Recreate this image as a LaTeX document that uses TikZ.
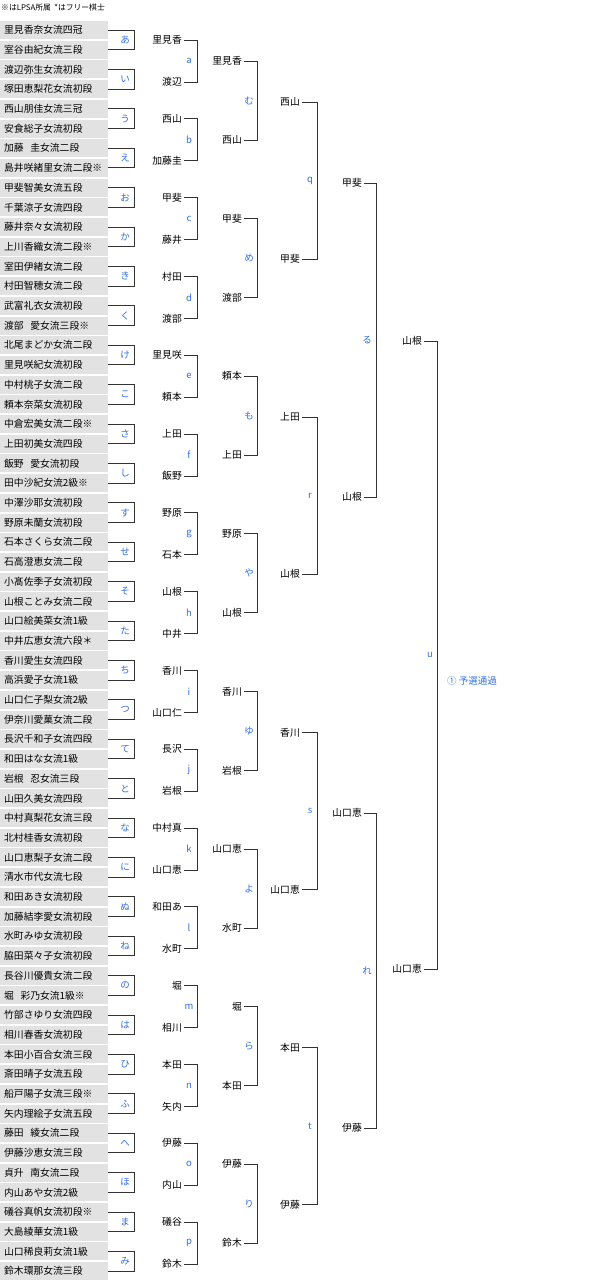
\documentclass[tikz,border=0pt]{standalone}
\usepackage{fontspec}
\newfontfamily\jp{Noto Sans CJK JP}
\definecolor{lblue}{HTML}{2F6FE8}
\definecolor{boxgray}{HTML}{E2E2E2}
\definecolor{lncol}{HTML}{333333}
\newcommand\brk[9]{%
 \node[nm,anchor=east] (t#1) at (#2,#4) {#6};
 \node[nm,anchor=east] (b#1) at (#2,#5) {#7};
 \coordinate (v#1) at (#3,#4);
 \draw[ln] ([xshift=2pt]t#1.east) -- (v#1) |- ([xshift=2pt]b#1.east);
 \node[lb] (l#1) at (#9,{(#4+#5)/2}) {#8};}
\begin{document}
\begin{tikzpicture}[x=1pt,y=-1pt,
 nm/.style={font=\jp\fontsize{9.8}{10}\selectfont,inner sep=0pt},
 pl/.style={font=\jp\fontsize{9.8}{10}\selectfont,fill=boxgray,anchor=west,text width=100pt,inner xsep=4pt,inner ysep=0pt,minimum height=18pt,align=left},
 lb/.style={font=\jp\fontsize{9.5}{10}\selectfont,text=lblue,inner sep=0pt},
 ln/.style={draw=lncol,line width=0.9pt}]
\useasboundingbox (0,0) rectangle (600,1285);
\node[font=\jp\fontsize{7.8}{8}\selectfont,anchor=west,inner sep=0pt] (hdr) at (1,8) {※はLPSA所属\ \ *はフリー棋士};
\foreach \i/\n in {0/里見香奈女流四冠,1/室谷由紀女流三段,2/渡辺弥生女流初段,3/塚田恵梨花女流初段,4/西山朋佳女流三冠,5/安食総子女流初段,6/加藤\ \ 圭女流二段,7/島井咲緒里女流二段※,8/甲斐智美女流五段,9/千葉涼子女流四段,10/藤井奈々女流初段,11/上川香織女流二段※,12/室田伊緒女流二段,13/村田智穂女流二段,14/武富礼衣女流初段,15/渡部\ \ 愛女流三段※,16/北尾まどか女流二段,17/里見咲紀女流初段,18/中村桃子女流二段,19/頼本奈菜女流初段,20/中倉宏美女流二段※,21/上田初美女流四段,22/飯野\ \ 愛女流初段,23/田中沙紀女流2級※,24/中澤沙耶女流初段,25/野原未蘭女流初段,26/石本さくら女流二段,27/石高澄恵女流二段,28/小髙佐季子女流初段,29/山根ことみ女流二段,30/山口絵美菜女流1級,31/中井広恵女流六段＊,32/香川愛生女流四段,33/高浜愛子女流1級,34/山口仁子梨女流2級,35/伊奈川愛菓女流二段,36/長沢千和子女流四段,37/和田はな女流1級,38/岩根\ \ 忍女流三段,39/山田久美女流四段,40/中村真梨花女流三段,41/北村桂香女流初段,42/山口恵梨子女流二段,43/清水市代女流七段,44/和田あき女流初段,45/加藤結李愛女流初段,46/水町みゆ女流初段,47/脇田菜々子女流初段,48/長谷川優貴女流二段,49/堀\ \ 彩乃女流1級※,50/竹部さゆり女流四段,51/相川春香女流初段,52/本田小百合女流三段,53/斎田晴子女流五段,54/船戸陽子女流三段※,55/矢内理絵子女流五段,56/藤田\ \ 綾女流二段,57/伊藤沙恵女流三段,58/貞升\ \ 南女流二段,59/内山あや女流2級,60/礒谷真帆女流初段※,61/大島綾華女流1級,62/山口稀良莉女流1級,63/鈴木環那女流三段}
 \node[pl] (p\i) at (0,{30+19.7*\i}) {\n};
\foreach \k/\l in {0/あ,1/い,2/う,3/え,4/お,5/か,6/き,7/く,8/け,9/こ,10/さ,11/し,12/す,13/せ,14/そ,15/た,16/ち,17/つ,18/て,19/と,20/な,21/に,22/ぬ,23/ね,24/の,25/は,26/ひ,27/ふ,28/へ,29/ほ,30/ま,31/み}{
 \pgfmathtruncatemacro\ta{2*\k}\pgfmathtruncatemacro\tb{2*\k+1}
 \coordinate (f\k) at (134,{30+19.7*\ta});
 \draw[ln] (p\ta.east) -- (f\k) |- (p\tb.east);
 \node[lb] (fl\k) at (125,{30+19.7*(\ta+0.5)}) {\l};}
\foreach \m/\id/\a/\b in {0/a/里見香/渡辺,1/b/西山/加藤圭,2/c/甲斐/藤井,3/d/村田/渡部,4/e/里見咲/頼本,5/f/上田/飯野,6/g/野原/石本,7/h/山根/中井,8/i/香川/山口仁,9/j/長沢/岩根,10/k/中村真/山口恵,11/l/和田あ/水町,12/m/堀/相川,13/n/本田/矢内,14/o/伊藤/内山,15/p/礒谷/鈴木}{
 \pgfmathsetmacro\yt{40+78.8*\m}\pgfmathsetmacro\yb{\yt+42}
 \brk{\id}{182}{197}{\yt}{\yb}{\a}{\b}{\id}{189}}
\foreach \m/\id/\a/\b in {0/mu/里見香/西山,1/me/甲斐/渡部,2/mo/頼本/上田,3/ya/野原/山根,4/yu/香川/岩根,5/yo/山口恵/水町,6/ra/堀/本田,7/ri/伊藤/鈴木}{
 \pgfmathsetmacro\yt{61+157.6*\m}\pgfmathsetmacro\yb{\yt+79}
 \ifcase\m\def\lab{む}\or\def\lab{め}\or\def\lab{も}\or\def\lab{や}\or\def\lab{ゆ}\or\def\lab{よ}\or\def\lab{ら}\or\def\lab{り}\fi
 \brk{\id}{242}{257}{\yt}{\yb}{\a}{\b}{\lab}{249}}
\foreach \m/\id/\a/\b in {0/q/西山/甲斐,1/r/上田/山根,2/s/香川/山口恵,3/t/本田/伊藤}{
 \pgfmathsetmacro\yt{102+315.2*\m}\pgfmathsetmacro\yb{\yt+157}
 \brk{\id}{300}{317}{\yt}{\yb}{\a}{\b}{\id}{310}}
\brk{ru}{362}{376}{183}{497}{甲斐}{山根}{る}{367}
\brk{re}{362}{376}{813}{1128}{山口恵}{伊藤}{れ}{367}
\brk{u}{422}{437}{341}{969}{山根}{山口恵}{u}{430}
\node[lb,anchor=west] (qual) at (447,681) {① 予選通過};
\end{tikzpicture}
\end{document}
